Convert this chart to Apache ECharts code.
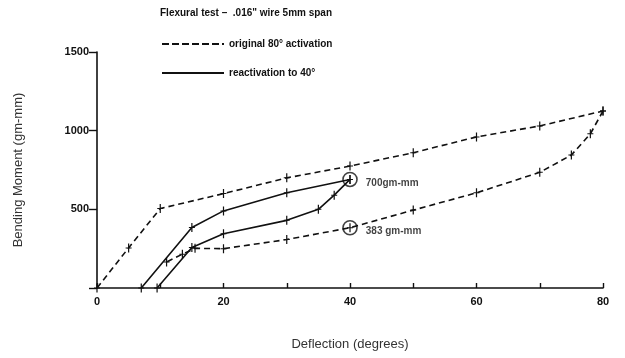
<!DOCTYPE html>
<html>
<head>
<meta charset="utf-8">
<script src="https://cdn.jsdelivr.net/npm/echarts@6/dist/echarts.min.js"></script>
<style>
  html, body { margin: 0; padding: 0; background: #fff; }
  #chart { width: 625px; height: 358px; }
</style>
</head>
<body>
<div id="chart"></div>
<script>
// original 80 deg activation (dashed), loading then unloading
const origLoadX = [0, 5, 10, 20, 30, 40, 50, 60, 70, 80]
const origLoadY = [0, 255, 505, 600, 700, 775, 860, 960, 1030, 1125]
const origUnloadX = [80, 78, 75, 70, 60, 50, 40, 30, 20, 15.5, 13.5, 11]
const origUnloadY = [1125, 980, 845, 735, 605, 495, 383, 308, 250, 252, 215, 165]
// reactivation to 40 deg (solid)
const reLoadX = [7, 15, 20, 30, 40]
const reLoadY = [0, 385, 490, 605, 690]
const reUnloadX = [40, 37.5, 35, 30, 20, 15, 9.5]
const reUnloadY = [690, 590, 500, 430, 345, 258, 0]
// circled points
const circleX = [40, 40]
const circleY = [690, 383]
const circleLabels = ['700gm-mm', '383 gm-mm']

const xTicks = [0, 20, 40, 60, 80]
const yTicks = [500, 1000, 1500]

const NAME_ORIG = 'original 80° activation'
const NAME_RE = 'reactivation to 40°'
const ink = '#111'
const plus = 'path://M4,0h1v9h-1z M2,4h5v1h-5z'

function pairs (xs, ys) {
  return xs.map((x, i) => [x, ys[i]])
}

function lineSeries (name, xs, ys, dashed) {
  return {
    name: name,
    type: 'line',
    data: pairs(xs, ys),
    symbol: plus,
    symbolSize: [6, 9],
    showAllSymbol: true,
    itemStyle: { color: ink },
    lineStyle: { color: ink, width: 1.6, type: dashed ? [6, 4] : 'solid' },
    emphasis: { disabled: true },
    z: 3
  }
}

const dashIcon = 'path://M0,0h7v2h-7z M10,0h7v2h-7z M20,0h7v2h-7z M30,0h7v2h-7z M40,0h7v2h-7z M50,0h7v2h-7z M60,0h2v2h-2z'

const chart = echarts.init(document.getElementById('chart'))
chart.setOption({
  animation: false,
  textStyle: { fontFamily: 'Liberation Sans, Arial, sans-serif' },
  title: {
    text: 'Flexural test –  .016" wire 5mm span',
    left: 155,
    top: 3,
    textStyle: { fontSize: 10, fontWeight: 'bold', color: ink }
  },
  legend: {
    orient: 'vertical',
    left: 157,
    top: 34,
    itemGap: 19,
    itemWidth: 62,
    itemHeight: 2,
    textStyle: { fontSize: 10, fontWeight: 'bold', color: ink, padding: [0, 0, 0, 0] },
    data: [
      { name: NAME_ORIG, icon: dashIcon },
      { name: NAME_RE, icon: 'rect' }
    ],
    selectedMode: false
  },
  grid: { left: 97, right: 22, top: 52, bottom: 70 },
  xAxis: {
    type: 'value',
    min: 0,
    max: 80,
    interval: 10,
    name: 'Deflection (degrees)',
    nameLocation: 'middle',
    nameGap: 50,
    nameTextStyle: { fontSize: 13, color: '#333' },
    axisLine: { lineStyle: { color: ink, width: 1.6 } },
    axisTick: { inside: true, length: 5, lineStyle: { color: ink, width: 1.4 } },
    axisLabel: {
      color: ink,
      fontSize: 11,
      fontWeight: 'bold',
      margin: 8,
      formatter: v => (xTicks.indexOf(v) >= 0 ? String(v) : '')
    },
    splitLine: { show: false }
  },
  yAxis: {
    type: 'value',
    min: 0,
    max: 1500,
    interval: 500,
    name: 'Bending Moment (gm-mm)',
    nameLocation: 'middle',
    nameGap: 72,
    nameTextStyle: { fontSize: 13, color: '#333' },
    axisLine: { show: true, lineStyle: { color: ink, width: 1.6 } },
    axisTick: { show: true, length: 8, lineStyle: { color: ink, width: 1.4 } },
    axisLabel: {
      color: ink,
      fontSize: 11,
      fontWeight: 'bold',
      margin: 8,
      formatter: v => (yTicks.indexOf(v) >= 0 ? String(v) : '')
    },
    splitLine: { show: false }
  },
  series: [
    lineSeries(NAME_ORIG, origLoadX, origLoadY, true),
    lineSeries(NAME_ORIG, origUnloadX, origUnloadY, true),
    lineSeries(NAME_RE, reLoadX, reLoadY, false),
    lineSeries(NAME_RE, reUnloadX, reUnloadY, false),
    {
      name: 'circled',
      type: 'scatter',
      data: pairs(circleX, circleY),
      symbol: 'circle',
      symbolSize: 14,
      itemStyle: { color: 'rgba(255,255,255,0)', borderColor: ink, borderWidth: 1.6 },
      label: {
        show: true,
        position: 'right',
        distance: 8,
        color: ink,
        fontSize: 10,
        fontWeight: 'bold',
        formatter: p => circleLabels[p.dataIndex],
        offset: [0, 4]
      },
      emphasis: { disabled: true },
      z: 4
    }
  ]
})
</script>
</body>
</html>
